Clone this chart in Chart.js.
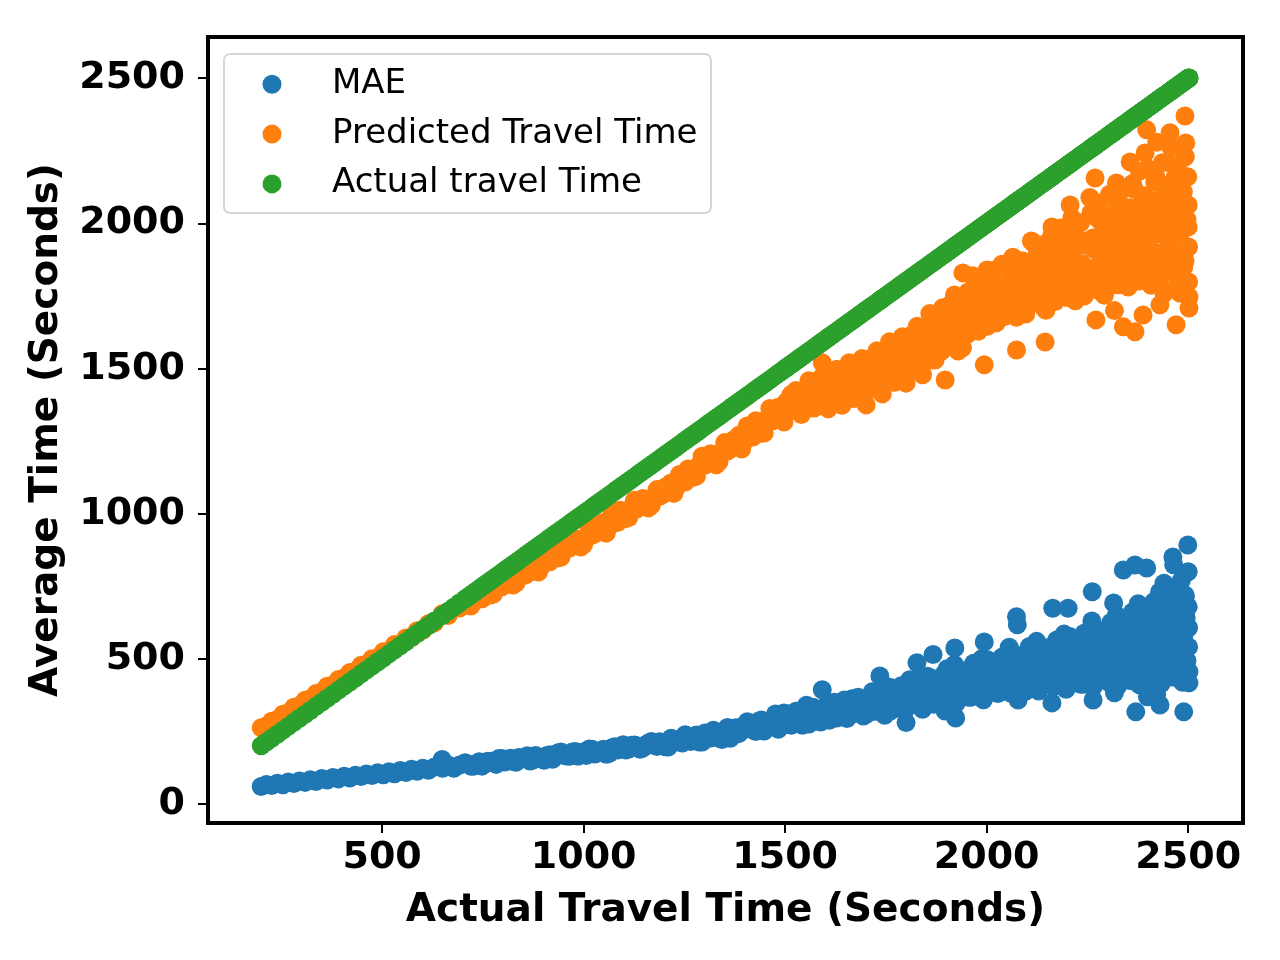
<!DOCTYPE html>
<html>
<head>
<meta charset="utf-8">
<title>Actual vs predicted travel time</title>
<script src="https://cdn.jsdelivr.net/npm/chart.js@4.4.1/dist/chart.umd.min.js"></script>
<style>
  html, body { margin: 0; padding: 0; background: #fff; }
  #wrap { width: 1280px; height: 960px; }
</style>
</head>
<body>
<div id="wrap"><canvas id="chart" width="1280" height="960"></canvas></div>
<script>
const seriesNames = ["MAE", "Predicted Travel Time", "Actual travel Time"];
const seriesColors = ["#1f77b4", "#ff7f0e", "#2ca02c"];
const xTicks = [500, 1000, 1500, 2000, 2500];
const yTicks = [0, 500, 1000, 1500, 2000, 2500];

// actual travel time of every trip (x of all three series)
const actualTime = [
  200,213,226,240,254,267,281,295,309,322,336,350,364,378,392,406,420,434,448,461,475,489,503,517,531,545,559,573,587,601,615,630,
  649,
  650,664,678,692,706,720,734,748,762,776,790,804,818,832,846,860,874,888,902,916,930,944,958,972,986,1000,1014,1028,1042,1056,
  1070,1084,1098,1112,1126,1140,1154,1168,1182,1196,1210,1224,1238,1252,1266,1280,1294,1308,1322,1336,1350,1364,1378,1392,1406,1420,1434,1448,1462,1476,1490,
  1502,1508,1515,1521,1527,1534,1540,1546, 1553,1559,1565,1572,1578,1584,1591,1597,
  1603,1609,1616,1622,1628,1635,1641,1647, 1653,1659,1666,1672,1678,1685,1691,1697,
  1703,1709,1716,1722,1728,1735,1741,1747, 1753,1759,1766,1772,1778,1785,1791,1797,
  1803,1809,1816,1822,1828,1835,1841,1847, 1853,1859,1866,1872,1878,1885,1891,1897,
  1902,1906,1911,1915,1920,1924,1929,1933,1938,1942,1947,
  1952,1956,1961,1965,1970,1974,1979,1983,1988,1992,1997,
  2002,2006,2011,2015,2020,2024,2029,2033,2038,2042,2047,
  2052,2056,2061,2065,2070,2074,2079,2083,2088,2092,2097,
  2102,2106,2111,2115,2120,2124,2129,2133,2138,2142,2147,
  2152,2156,2161,2165,2170,2174,2179,2183,2188,2192,2197,
  2202,2206,2211,2215,2220,2224,2229,2233,2238,2242,2247,
  2252,2256,2261,2265,2270,2274,2279,2283,2288,2292,2297,
  2301,2305,2308,2312,2315,2319,2322,2326,2329,2333,2336,2340,2343,2347,
  2351,2355,2358,2362,2365,2369,2372,2376,2379,2383,2386,2390,2393,2397,
  2401,2405,2408,2412,2415,2419,2422,2426,2429,2433,2436,2440,2443,2447,
  2451,2455,2458,2462,2465,2469,2472,2476,2479,2483,2486,2490,2493,2497,
  1592,1607,1701,1735,1800,1827,1867,1897,1921,1923,1941,1994,2001,2074,2076,2078,2116,2145,2162,2164,
  2202,2207,2262,2264,2269,2271,2315,2317,2339,2356,2368,2370,2388,2393,2397,2399,2422,2430,2440,2455,
  2457,2462,2464,2470,2480,2489,2492,2494,2499,2500,2500,2501,2501,2502,2502,
  713,727,741,755,769,783,797,811,825,839,853,867,881,895,909,923,937,951,965,979,993,
  1007,1021,1035,1049,1063,1077,1091,1105,1119,1133,1147,1161,1175,1189,1203,1217,1231,1245,1259,1273,
  1287,1301,1315,1329,1343,1357,1371,1385,1399,1413,1427,1441,1455,1469,1483,1497,
  1504,1512,1518,1530,1537,1543, 1556,1562,1569,1581,1588,1594,
  1606,1612,1619,1631,1638,1644, 1656,1662,1669,1681,1688,1694,
  1706,1712,1719,1731,1738,1744, 1756,1762,1769,1781,1788,1794,
  1806,1812,1819,1831,1838,1844, 1856,1862,1869,1881,1888,1894,
  1904,1909,1913,1918,1926,1931,1936,1940,1945,
  1954,1959,1963,1968,1976,1981,1986,1990,1995,
  2004,2009,2013,2018,2026,2031,2036,2040,2045,
  2054,2059,2063,2068,2076,2081,2086,2090,2095,
  2104,2109,2113,2118,2126,2131,2136,2140,2145,
  2154,2159,2163,2168,2176,2181,2186,2190,2195,
  2204,2209,2213,2218,2226,2231,2236,2240,2245,
  2254,2259,2263,2268,2276,2281,2286,2290,2295,
  2303,2307,2310,2314,2317,2321,2324,2328,2331,2338,2342,2345,
  2353,2357,2360,2364,2367,2371,2374,2378,2381,2388,2392,2395,
  2403,2407,2410,2414,2417,2421,2424,2428,2431,2438,2442,2445,
  2453,2457,2460,2464,2467,2471,2474,2478,2481,2488,2492,2495
];

const predictedTime = [
  262,268,285,291,309,314,333,338,357,362,380,386,405,410,429,434,453,456,478,481,500,503,524,527,549,551,572,574,597,598,621,624,
  655,
  649,649,676,675,692,682,720,707,728,723,764,755,768,761,803,793,819,799,855,834,864,851,907,891,905,894,952,931,963,933,
  999,970,1000,987,1046,1026,1040,1029,1083,1066,1097,1070,1135,1109,1144,1130,1198,1177,1194,1179,1245,1223,1259,1223,1302,1264,1304,1278,1363,1331,1349,
  1384,1351,1411,1370,1425,1393,1342,1402, 1382,1458,1405,1364,1429,1387,1470,1417,
  1436,1388,1477,1415,1498,1450,1374,1464, 1420,1520,1451,1397,1481,1428,1535,1466,
  1488,1430,1537,1463,1562,1504,1413,1521, 1479,1593,1514,1453,1549,1488,1610,1531,
  1562,1498,1618,1535,1646,1581,1479,1600, 1560,1690,1600,1530,1640,1570,1710,1620,
  1657,1582,1722,1625,1754,1679,1561,1700,1604,1743,1647,
  1618,1741,1663,1820,1719,1708,1629,1775,1674,1809,1730,
  1646,1793,1691,1838,1736,1658,1781,1703,1860,1759,1748,
  1700,1849,1746,1884,1803,1677,1826,1723,1872,1769,1688,
  1852,1764,1940,1827,1814,1726,1890,1776,1927,1839,1701,
  1900,1774,1957,1830,1731,1886,1788,1985,1858,1844,1745,
  1972,1829,2019,1908,1734,1940,1797,2003,1861,1750,1924,
  1842,2090,1930,1913,1788,2019,1859,2072,1948,1753,1984,
  1848,2101,1926,1789,2004,1867,2140,1965,1945,1809,2062,1887,2121,1984,
  1781,2054,1865,2138,1949,1802,2033,1886,2180,1991,1970,1823,2096,1907,
  2188,2032,1787,2077,1876,2166,1965,1810,2054,1899,2210,2010,1988,1832,
  2134,1918,2206,2038,1774,2086,1870,2182,1966,1798,2062,1894,2230,2014,
  1520,1362,1375,1500,1450,1600,1620,1461,1700,1640,1830,1513,1840,1564,1865,1700,1933,1592,1988,1800,
  1900,2064,1800,1950,2157,1668,1900,1700,1644,2212,1627,2000,1685,2243,2323,1900,2280,1720,1760,2313,
  2264,1950,2100,1651,1760,1850,2371,2278,2161,2064,1988,1919,1799,1747,1709,
  700,696,713,734,720,745,748,773,754,783,787,815,829,818,842,874,848,883,882,914,885,
  922,926,957,970,956,981,1012,983,1020,1017,1052,1020,1057,1060,1092,1106,1093,1120,1154,1126,
  1168,1167,1207,1169,1214,1216,1253,1270,1250,1280,1320,1277,1327,1320,1367,1316,
  1374,1402,1356,1388,1416,1365, 1423,1364,1405,1441,1382,1429,
  1422,1464,1395,1443,1484,1408, 1474,1397,1451,1497,1420,1481,
  1471,1521,1438,1496,1545,1455, 1540,1453,1514,1566,1479,1549,
  1544,1600,1507,1572,1627,1526, 1630,1530,1600,1660,1560,1640,
  1636,1701,1593,1668,1733,1615,1679,1572,1647,
  1764,1651,1741,1685,1753,1640,1719,1786,1663,
  1770,1658,1736,1804,1691,1781,1725,1793,1680,
  1792,1861,1734,1803,1688,1769,1838,1723,1815,
  1789,1864,1738,1827,1902,1764,1839,1713,1801,
  1915,1774,1886,1816,1900,1759,1858,1943,1788,
  1908,1750,1861,1956,1797,1924,1845,1940,1781,
  1930,2037,1842,1948,1771,1895,2001,1824,1966,
  1906,2023,1828,1965,2082,1867,1984,1789,1926,2043,1848,2004,
  1928,2054,1844,1991,2117,1886,2012,1802,1949,2075,1865,2033,
  1943,2077,1854,2010,2143,1899,2032,1810,1965,2099,1876,2054,
  1942,2086,1846,2014,2158,1894,2038,1798,1966,2110,1870,2062
];

const maeTime = [
  60,67,63,71,66,75,70,79,74,83,77,87,82,91,86,95,89,99,94,103,98,107,100,111,104,115,108,119,112,123,116,127,
  153,
  123,134,123,134,142,130,138,130,147,142,156,144,157,143,156,166,151,160,150,169,163,179,165,179,164,178,189,172,182,171,
  193,186,204,189,203,188,203,215,198,210,196,223,214,238,215,237,213,236,254,227,244,226,262,251,283,255,285,251,283,310,268,
  283,310,271,298,319,277,304,289, 340,275,306,330,289,320,303,292,
  339,288,323,350,296,331,311,358, 294,332,362,311,350,328,316,354,
  310,352,386,319,362,338,395,305, 364,402,337,386,359,342,391,321,
  386,428,344,398,368,440,326,380, 440,362,421,388,369,427,343,401,
  466,368,431,396,480,347,410,459,375,438,403,
  396,463,367,433,485,382,448,411,500,359,426,
  497,404,474,435,412,481,381,450,505,396,466,
  439,540,380,456,515,414,490,448,422,498,389,
  479,542,416,497,452,560,389,470,533,425,506,
  475,445,535,405,495,565,425,515,465,585,395,
  500,577,445,544,489,456,555,412,511,588,434,
  547,488,630,405,512,594,452,559,500,464,571,
  421,535,625,446,561,497,650,408,523,612,459,574,510,472,
  616,425,557,661,454,587,513,690,410,543,646,469,602,528,
  498,647,431,581,697,464,614,531,730,415,564,680,481,630,
  567,511,678,437,604,733,474,641,548,770,419,585,715,493,
  393,300,335,441,280,486,515,320,537,296,420,558,380,645,617,358,450,500,348,674,
  674,450,731,358,520,600,692,383,806,560,823,317,600,450,813,369,376,341,760,700,
  600,851,824,480,650,317,720,540,892,800,679,607,541,455,417,
  137,130,145,138,147,136,156,148,146,160,156,148,167,157,167,154,176,167,164,180,177,
  167,188,177,188,173,197,189,186,202,199,192,210,201,214,197,226,214,210,233,228,
  213,244,227,246,222,263,247,242,271,266,249,289,266,291,257,313,
  295,277,307,286,313,271, 313,292,333,303,282,316,
  311,319,296,335,307,342, 299,341,316,367,328,303,
  362,338,348,319,367,333, 396,321,375,342,407,359,
  338,398,368,380,344,404, 376,434,343,408,369,447,
  403,361,431,396,410,368,438,389,452,
  367,441,396,485,419,374,448,411,426,
  396,474,419,489,381,458,412,505,435,
  397,481,439,456,406,490,431,506,389,
  488,434,542,461,407,497,452,470,416,
  525,455,545,405,505,445,565,475,415,
  533,478,500,434,544,467,566,412,522,
  464,606,500,429,547,488,512,440,559,
  484,599,421,548,472,625,510,433,561,497,523,446,
  602,498,631,425,572,484,661,528,439,587,513,543,
  464,630,514,664,431,597,498,697,547,448,614,531,
  585,474,659,530,696,437,622,511,733,567,456,641
];

const FONT = "'DejaVu Sans', 'Liberation Sans', sans-serif";
const tickFont = { family: FONT, size: 38, weight: "bold" };
const titleFont = { family: FONT, size: 39, weight: "bold" };

function points(ys) {
  return actualTime.map((t, i) => ({ x: t, y: ys[i] }));
}

// spines + matplotlib-like legend box
const framePlugin = {
  id: "frame",
  afterDatasetsDraw(chart) {
    const { ctx, chartArea: a } = chart;
    ctx.save();
    ctx.strokeStyle = "#000";
    ctx.lineWidth = 4;
    ctx.strokeRect(a.left, a.top, a.right - a.left, a.bottom - a.top);
    ctx.restore();
  },
  afterDraw(chart) {
    const ctx = chart.ctx;
    const bx = 224, by = 54, bw = 487, bh = 159, r = 6;
    ctx.save();
    ctx.beginPath();
    ctx.moveTo(bx + r, by);
    ctx.arcTo(bx + bw, by, bx + bw, by + bh, r);
    ctx.arcTo(bx + bw, by + bh, bx, by + bh, r);
    ctx.arcTo(bx, by + bh, bx, by, r);
    ctx.arcTo(bx, by, bx + bw, by, r);
    ctx.closePath();
    ctx.fillStyle = "rgba(255,255,255,0.8)";
    ctx.fill();
    ctx.strokeStyle = "#d6d6d6";
    ctx.lineWidth = 2;
    ctx.stroke();

    ctx.font = "34px " + FONT;
    ctx.textBaseline = "alphabetic";
    ctx.textAlign = "left";
    seriesNames.forEach((name, i) => {
      ctx.fillStyle = seriesColors[i];
      ctx.beginPath();
      ctx.arc(272, 84.3 + i * 49.8, 9.5, 0, Math.PI * 2);
      ctx.fill();
      ctx.fillStyle = "#000";
      ctx.fillText(name, 332, 93.3 + i * 49.5);
    });
    ctx.restore();
  }
};

const ys = [maeTime, predictedTime, actualTime];

new Chart(document.getElementById("chart"), {
  type: "scatter",
  data: {
    datasets: seriesNames.map((name, i) => ({
      label: name,
      data: points(ys[i]),
      backgroundColor: seriesColors[i],
      borderWidth: 0,
      pointRadius: 9.5,
      pointHoverRadius: 9.5,
      order: 3 - i
    }))
  },
  options: {
    responsive: false,
    devicePixelRatio: 1,
    animation: false,
    events: [],
    layout: { padding: { left: 0, right: 37, top: 37, bottom: 0 } },
    plugins: {
      legend: { display: false },
      tooltip: { enabled: false }
    },
    scales: {
      x: {
        type: "linear",
        min: 68,
        max: 2636,
        afterBuildTicks: s => { s.ticks = xTicks.map(v => ({ value: v })); },
        afterFit: s => { s.height = 137; },
        border: { display: false },
        grid: { drawOnChartArea: false, drawTicks: true, tickLength: 10, color: "#000", lineWidth: 2 },
        ticks: { color: "#000", font: tickFont, padding: 2, maxRotation: 0, autoSkip: false, callback: v => String(v) },
        title: { display: true, text: "Actual Travel Time (Seconds)", color: "#000", font: titleFont, padding: { top: 0, bottom: 26 } }
      },
      y: {
        type: "linear",
        min: -66,
        max: 2643,
        afterBuildTicks: s => { s.ticks = yTicks.map(v => ({ value: v })); },
        afterFit: s => { s.width = 208; },
        border: { display: false },
        grid: { drawOnChartArea: false, drawTicks: true, tickLength: 10, color: "#000", lineWidth: 2 },
        ticks: { color: "#000", font: tickFont, padding: 13, autoSkip: false, callback: v => String(v) },
        title: { display: true, text: "Average Time (Seconds)", color: "#000", font: titleFont, padding: { top: 23, bottom: 0 } }
      }
    }
  },
  plugins: [framePlugin]
});
</script>
</body>
</html>
